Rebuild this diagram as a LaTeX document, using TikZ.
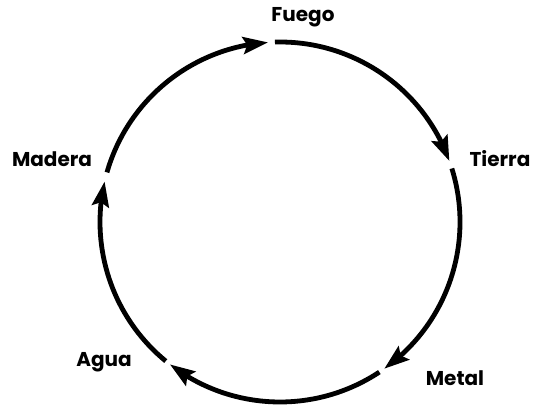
\documentclass[tikz,border=0pt]{standalone}
\usepackage{fontspec}
\setmainfont{Poppins}
\usetikzlibrary{arrows.meta,bending}
\tikzset{
  elem/.style={font=\bfseries\fontsize{20}{22}\selectfont,inner sep=0pt,anchor=base},
  cyc/.style={line width=4.8pt,black,-{Stealth[length=25pt,width=17pt,inset=4pt,flex]}},
  every picture/.style={x=1pt,y=1pt}
}
\begin{document}
\begin{tikzpicture}
  \useasboundingbox (0,0) rectangle (537,409);
  \coordinate (c) at (280,187);
  % labels of the five elements
  \node[elem] (fuego) at (303,387) {Fuego};
  \node[elem] (tierra) at (500,242) {Tierra};
  \node[elem] (metal) at (455,24) {Metal};
  \node[elem] (agua) at (104,42) {Agua};
  \node[elem] (madera) at (52,242) {Madera};
  % gap ends on the circle
  \path (c) ++(91.6:180) coordinate (fu-out);
  \path (c) ++(17.3:180) coordinate (ti-out);
  \path (c) ++(-56.5:180) coordinate (me-out);
  \path (c) ++(-129.4:180) coordinate (ag-out);
  \path (c) ++(164:180) coordinate (ma-out);
  % cycle
  \draw[cyc] (fu-out) arc[start angle=91.6, end angle=19.8, radius=180];
  \draw[cyc] (ti-out) arc[start angle=17.3, end angle=-54.6, radius=180];
  \draw[cyc] (me-out) arc[start angle=-56.5, end angle=-127.7, radius=180];
  \draw[cyc] (ag-out) arc[start angle=-129.4, end angle=-193, radius=180];
  \draw[cyc] (ma-out) arc[start angle=164, end angle=93.8, radius=180];
\end{tikzpicture}
\end{document}
